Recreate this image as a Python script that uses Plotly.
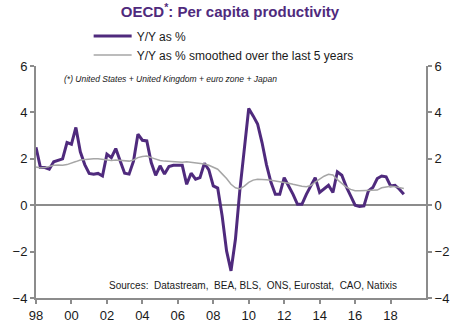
import plotly.graph_objects as go

years = list(range(1998, 2019))
quarters = [y + q / 4 for y in years for q in range(4)]

yoy = [
    2.5, 1.62, 1.62, 1.55,
    1.87, 1.95, 2.0, 2.7,
    2.63, 3.35, 2.3, 1.75,
    1.37, 1.33, 1.37, 1.26,
    2.2, 2.05, 2.44, 1.9,
    1.38, 1.34, 1.9, 3.06,
    2.8, 2.77, 1.84, 1.29,
    1.7, 1.34, 1.67, 1.72,
    1.72, 1.72, 0.9, 1.38,
    1.12, 1.19, 1.81, 1.52,
    0.83, 0.74, -0.46, -1.97,
    -2.83, -1.47, 0.65, 2.4,
    4.17, 3.85, 3.5, 2.7,
    1.75, 1.0, 0.47, 0.47,
    1.19, 0.83, 0.47, 0.04,
    0.04, 0.47, 0.86, 1.19,
    0.55, 0.69, 0.86, 0.55,
    1.44, 1.29, 0.8, 0.4,
    0.0, -0.05, -0.03, 0.62,
    0.76, 1.15, 1.26, 1.22,
    0.83, 0.86, 0.69, 0.47,
]

smoothed = [
    1.65, 1.6, 1.62, 1.68,
    1.72, 1.73, 1.72, 1.75,
    1.8, 1.88, 1.95, 1.97,
    2.0, 2.0, 2.0, 1.98,
    1.95, 1.93, 1.95, 1.93,
    1.9, 1.9, 1.95, 2.05,
    2.1, 2.12, 2.05, 1.98,
    1.93, 1.9, 1.88, 1.86,
    1.86, 1.85, 1.87, 1.85,
    1.83, 1.8, 1.78, 1.72,
    1.65, 1.55, 1.35, 1.15,
    0.9, 0.75, 0.7, 0.82,
    0.98, 1.08, 1.12, 1.12,
    1.1, 1.08, 1.05, 1.02,
    1.0, 0.95, 0.9, 0.85,
    0.82, 0.8, 0.85, 1.0,
    1.12, 1.25, 1.33, 1.3,
    1.1, 0.95, 0.78, 0.68,
    0.62, 0.62, 0.62, 0.62,
    0.63, 0.65, 0.75, 0.8,
    0.82, 0.8, 0.75, 0.72,
]

tick_vals = list(range(1998, 2019, 2))
tick_text = ["98", "00", "02", "04", "06", "08", "10", "12", "14", "16", "18"]

purple = "#4f2a7d"
grey = "#a6a6a6"
axis_grey = "#8c8c8c"
font_family = "Liberation Sans, Arial, sans-serif"

fig = go.Figure()
fig.add_trace(go.Scatter(x=quarters, y=yoy, mode="lines", name="Y/Y as %",
                         line=dict(color=purple, width=3)))
fig.add_trace(go.Scatter(x=quarters, y=smoothed, mode="lines",
                         name="Y/Y as % smoothed over the last 5 years",
                         line=dict(color=grey, width=1.5)))
fig.add_trace(go.Scatter(x=[1998, 2020], y=[None, None], yaxis="y2",
                         showlegend=False, hoverinfo="skip"))

fig.update_layout(
    width=460, height=327,
    margin=dict(l=36, r=34, t=66, b=29, autoexpand=False),
    paper_bgcolor="white", plot_bgcolor="white",
    font=dict(family=font_family, color="#1a1a1a", size=13),
    title=dict(text="<b>OECD<sup>*</sup>: Per capita productivity</b>",
               x=0.5, xanchor="center", y=1 - 12 / 327, yanchor="middle",
               font=dict(size=15, color=purple, family=font_family)),
    showlegend=True,
    legend=dict(x=0.135, y=1.192, xanchor="left", yanchor="top",
                font=dict(size=12, color="#1a1a1a"), bgcolor="rgba(0,0,0,0)",
                tracegroupgap=0, itemwidth=38),
    xaxis=dict(range=[1998, 2020], tickvals=tick_vals, ticktext=tick_text,
               showgrid=False, zeroline=False, showline=True,
               linecolor=axis_grey, linewidth=2, ticks="outside",
               ticklen=4, tickcolor=axis_grey, tickwidth=2,
               tickfont=dict(size=13)),
    yaxis=dict(range=[-4, 6], dtick=2, showgrid=False, zeroline=True,
               zerolinecolor=axis_grey, zerolinewidth=2, showline=True,
               linecolor=axis_grey, linewidth=2, ticks="outside",
               ticklen=4, tickcolor=axis_grey, tickwidth=2,
               tickfont=dict(size=13)),
    yaxis2=dict(range=[-4, 6], dtick=2, overlaying="y", side="right",
                showgrid=False, zeroline=False, showline=True,
                linecolor=axis_grey, linewidth=2, ticks="outside",
                ticklen=4, tickcolor=axis_grey, tickwidth=2,
                tickfont=dict(size=13)),
)

fig.add_annotation(text="<i>(*) United States + United Kingdom + euro zone + Japan</i>",
                   xref="paper", yref="paper", x=(62 - 36) / 390, y=(298 - 79) / 232,
                   xanchor="left", yanchor="middle", showarrow=False,
                   font=dict(size=8.5, color="#1a1a1a"))
fig.add_annotation(text="Sources:\u00a0 Datastream,\u00a0 BEA, BLS,\u00a0 ONS, Eurostat,\u00a0 CAO, Natixis",
                   xref="paper", yref="paper", x=(253 - 36) / 390, y=(298 - 285) / 232,
                   xanchor="center", yanchor="middle", showarrow=False,
                   font=dict(size=10, color="#1a1a1a"))

fig.write_html("out.html")
